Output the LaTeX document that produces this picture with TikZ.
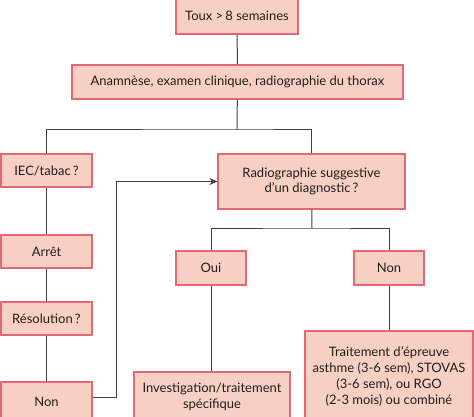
\documentclass[tikz,border=0pt]{standalone}
\usepackage{fontspec}
\setmainfont{Lato}
\usetikzlibrary{arrows.meta}
\definecolor{boxfill}{HTML}{F8D0C3}
\definecolor{boxline}{HTML}{E36877}
\definecolor{conn}{HTML}{404040}
\tikzset{
  fbox/.style={draw=boxline, fill=boxfill, line width=1.2pt, inner sep=0pt, align=center, font=\fontsize{13}{15.7}\selectfont, text=black!88},
  cline/.style={draw=conn, line width=1pt},
}
\newcommand{\bx}[6]{\node[fbox, minimum width=#4-#2, minimum height=#5-#3] (#1) at ({(#2+#4)/2},{(#3+#5)/2}) {#6};}
\begin{document}
\begin{tikzpicture}[x=1pt,y=-1pt]
\useasboundingbox (0,0) rectangle (474,416);
\clip (0,0) rectangle (474,416);
\bx{b1}{176}{-3}{298}{34}{Toux >\,8 semaines}
\bx{b2}{72}{65}{403}{99}{Anamnèse, examen clinique, radiographie du thorax}
\bx{iec}{1}{154}{92}{187}{IEC/tabac\,?}
\bx{arret}{1}{235}{92}{268}{Arrêt}
\bx{resol}{1}{302}{92}{335}{Résolution\,?}
\bx{non1}{1}{382}{92}{422}{Non}
\bx{radio}{218}{154}{405}{209}{Radiographie suggestive\\d’un diagnostic\,?}
\bx{oui}{176}{251}{246}{285}{Oui}
\bx{non2}{354}{251}{424}{285}{Non}
\bx{invest}{134}{372}{290}{422}{Investigation/traitement\\spécifique}
\bx{trait}{305}{331}{473}{422}{Traitement d’épreuve\\asthme (3-6 sem), STOVAS\\(3-6 sem), ou RGO\\(2-3 mois) ou combiné}
\coordinate (j1) at (237,129);
\coordinate (j2) at (116,397);
\coordinate (j3) at (312,228);
\draw[cline] (b1) -- (b2);
\draw[cline] (b2) -- (j1);
\draw[cline] (iec.north) |- (j1) -| (radio.north);
\draw[cline] (iec) -- (arret);
\draw[cline] (arret) -- (resol);
\draw[cline] (resol) -- (non1);
\draw[cline, -{Stealth[length=8pt,width=7pt]}] (non1.east |- j2) -- (j2) |- (radio.west);
\draw[cline] (radio) -- (j3);
\draw[cline] (oui.north) |- (j3) -| (non2.north);
\draw[cline] (oui.south) -- (oui.south |- invest.north);
\draw[cline] (non2.south) -- (non2.south |- trait.north);
\end{tikzpicture}
\end{document}
